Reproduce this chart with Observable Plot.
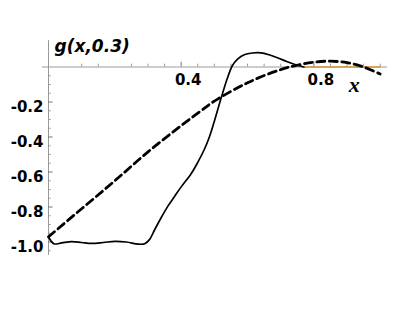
<!DOCTYPE html>
<html><head><meta charset="utf-8">
<script src="https://cdn.jsdelivr.net/npm/d3@7"></script>
<script src="https://cdn.jsdelivr.net/npm/@observablehq/plot@0.6"></script>
<style>body{margin:0;background:#fff}</style>
</head><body><div id="chart"></div>
<script>
const solidX = [0,0.016,0.04,0.07,0.10,0.13,0.165,0.2,0.235,0.27,0.29,0.305,0.32,0.34,0.36,0.38,0.40,0.43,0.45,0.47,0.485,0.50,0.52,0.54,0.555,0.57,0.59,0.615,0.64,0.665,0.69,0.72,0.75,0.77];
const solidY = [-0.97,-1.01,-1.005,-0.998,-1.003,-1.008,-1.003,-0.996,-1.0,-1.012,-1.01,-0.985,-0.93,-0.86,-0.795,-0.74,-0.685,-0.61,-0.545,-0.47,-0.40,-0.31,-0.18,-0.06,0.01,0.045,0.07,0.08,0.081,0.07,0.053,0.03,0.01,0.0];
const dashX = [0,0.1,0.2,0.3,0.4,0.46,0.5,0.6,0.7,0.75,0.8,0.85,0.9,0.95,1.0];
const dashY = [-0.97,-0.81,-0.65,-0.485,-0.335,-0.25,-0.195,-0.09,-0.015,0.01,0.028,0.033,0.025,0.0,-0.04];
const zeroX = [0.77,1.0];
const zeroY = [0,0];
const xLabels = [0.4,0.8];
const xMinor = [0.1,0.15,0.25,0.3,0.35,0.45,0.5,0.55,0.6,0.65,0.7,0.75,0.85,0.9,0.95,1.0];
const yLabels = [-0.2,-0.4,-0.6,-0.8,-1.0];
const yMinor = [-0.05,-0.1,-0.15,-0.25,-0.3,-0.35,-0.45,-0.5,-0.55,-0.65,-0.7,-0.75,-0.85,-0.9,-0.95,-1.05];
const title = "g(x,0.3)";
const xTitle = "x";

const solid = solidX.map((x,i)=>({x, y: solidY[i]}));
const dashed = dashX.map((x,i)=>({x, y: dashY[i]}));
const zero = zeroX.map((x,i)=>({x, y: zeroY[i]}));
const fmt = d => d.toFixed(1);
const axisCol = "#999";
const font = {fontFamily: "DejaVu Sans", fontWeight: "bold", fontSize: 15, fill: "black"};

const chart = Plot.plot({
  width: 415, height: 312,
  marginLeft: 48, marginRight: 35.3, marginTop: 66.5, marginBottom: 70.5,
  x: {domain: [0, 1], axis: null},
  y: {domain: [-1, 0], axis: null},
  style: {background: "white", overflow: "visible"},
  marks: [
    Plot.ruleY([0], {x1: -0.018, x2: 1.022, stroke: axisCol, strokeWidth: 1}),
    Plot.ruleX([0], {y1: 0.151, y2: -1.077, stroke: axisCol, strokeWidth: 1}),
    Plot.ruleX(xMinor, {x: d => d, y1: 0, y2: 0.016, stroke: axisCol}),
    Plot.ruleX(xLabels, {x: d => d, y1: 0, y2: 0.027, stroke: "#777"}),
    Plot.ruleY(yMinor, {y: d => d, x1: 0, x2: 0.008, stroke: axisCol}),
    Plot.ruleY(yLabels, {y: d => d, x1: 0, x2: 0.014, stroke: "#777"}),
    Plot.text(xLabels, {x: d => d, y: 0, text: fmt, dx: 7, dy: 13, textAnchor: "middle", ...font}),
    Plot.text(yLabels, {x: 0, y: d => d, text: fmt, dx: -5, dy: 5.5, textAnchor: "end", ...font}),
    Plot.line(zero, {x: "x", y: "y", stroke: "#d4963a", strokeWidth: 1.6}),
    Plot.line(dashed, {x: "x", y: "y", curve: "catmull-rom", stroke: "black", strokeWidth: 2.8, strokeDasharray: "8,4.5"}),
    Plot.line(solid, {x: "x", y: "y", curve: "catmull-rom", stroke: "black", strokeWidth: 1.7}),
    Plot.text([title], {frameAnchor: "top-left", text: d => d, dx: 6, dy: -15.5, lineAnchor: "bottom", textAnchor: "start", fontFamily: "DejaVu Sans", fontWeight: "bold", fontStyle: "italic", fontSize: 17, fill: "black"}),
    Plot.text([xTitle], {frameAnchor: "top-right", text: d => d, dx: -26, dy: 24.5, lineAnchor: "bottom", textAnchor: "middle", fontFamily: "Liberation Serif", fontStyle: "italic", fontWeight: "bold", fontSize: 22, fill: "black"})
  ]
});
document.getElementById("chart").appendChild(chart);
</script>
</body></html>
